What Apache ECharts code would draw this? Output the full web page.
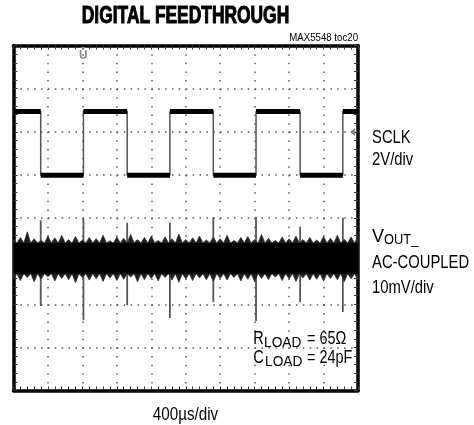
<!DOCTYPE html>
<html><head><meta charset="utf-8">
<script src="https://cdn.jsdelivr.net/npm/echarts@6/dist/echarts.min.js"></script>
<style>html,body{margin:0;padding:0;background:#fff}#c{width:474px;height:425px}</style>
</head><body><div id="c"></div>
<script>
// time axis: 10 divisions (400us/div); vertical: 8 divisions (screen units, 0 = bottom)
const xDivRange = [0, 10];
const yDivRange = [0, 8];
// SCLK square wave (2V/div), edge times in divisions, starting high
const sclkEdges = [0.79, 2.03, 3.30, 4.54, 5.80, 7.04, 8.32, 9.56];
const sclkHigh = 6.47;
const sclkLow = 4.99;
// VOUT_ AC-coupled noise band (10mV/div): fringe tips read every 0.2 div
const noiseTop = [3.50,3.55,3.68,3.52,3.48,3.58,3.54,3.60,3.50,3.57,3.49,3.55,3.52,3.60,3.47,3.56,3.53,3.62,3.50,3.55,3.58,3.48,3.56,3.52,3.63,3.50,3.54,3.58,3.49,3.56,3.52,3.60,3.48,3.55,3.57,3.50,3.62,3.53,3.48,3.56,3.52,3.58,3.50,3.55,3.49,3.57,3.53,3.60,3.51,3.56,3.58];
const noiseBottom = [2.60,2.55,2.62,2.52,2.58,2.64,2.54,2.60,2.57,2.50,2.62,2.56,2.59,2.53,2.61,2.55,2.58,2.63,2.52,2.57,2.60,2.54,2.62,2.56,2.51,2.59,2.55,2.61,2.57,2.53,2.60,2.56,2.62,2.54,2.58,2.52,2.60,2.57,2.63,2.55,2.59,2.53,2.61,2.56,2.58,2.54,2.60,2.57,2.52,2.59,2.56];
const noiseCoreTop = 3.42;
const noiseCoreBottom = 2.71;
// feedthrough spikes at each clock edge
const spikeX = [0.79, 2.03, 3.30, 4.54, 5.80, 7.04, 8.32, 9.56];
const spikeTop = [3.95, 3.98, 3.89, 3.89, 4.01, 4.03, 3.80, 4.01];
const spikeBottom = [1.96, 1.63, 1.98, 1.68, 2.05, 1.61, 2.05, 1.82];

const FONT = '"Liberation Sans", Arial, sans-serif';

// build SCLK traces
const sclkThin = [];
const sclkThick = [];
let lvl = sclkHigh, prev = xDivRange[0];
sclkThin.push([prev, lvl]);
sclkEdges.forEach(e => {
  sclkThick.push([prev, lvl], [e, lvl], [e, '-']);
  sclkThin.push([e, lvl]);
  lvl = (lvl === sclkHigh) ? sclkLow : sclkHigh;
  sclkThin.push([e, lvl]);
  prev = e;
});
sclkThin.push([xDivRange[1], lvl]);
sclkThick.push([prev, lvl], [xDivRange[1], lvl]);

const noiseStep = (xDivRange[1] - xDivRange[0]) / (noiseTop.length - 1);

function axisBase(pos, isX) {
  return {
    type: 'value', min: isX ? xDivRange[0] : yDivRange[0], max: isX ? xDivRange[1] : yDivRange[1],
    interval: 1, position: pos,
    axisLine: {show: true, onZero: false, lineStyle: {color: '#000', width: 3.5}},
    axisTick: {show: true, inside: true, length: 4, lineStyle: {color: '#333', width: 1}},
    minorTick: {show: true, splitNumber: 5, length: 4, lineStyle: {color: '#333', width: 1}},
    axisLabel: {show: false},
    splitLine: {show: false},
    minorSplitLine: {show: false}
  };
}
const xB = axisBase('bottom', true);
xB.splitLine = {show: true, lineStyle: {color: '#555', width: 1.5, type: [1.5, 7.125]}};
const xT = axisBase('top', true);
const yL = axisBase('left', false);
yL.splitLine = {show: true, lineStyle: {color: '#555', width: 1.5, type: [1.5, 5.39]}};
const yR = axisBase('right', false);

function txt(text, x, y, size, opt) {
  opt = opt || {};
  const st = {
    text: text, fill: opt.fill || '#000',
    font: (opt.bold ? 'bold ' : '') + size + 'px ' + FONT,
    textAlign: opt.align || 'left', align: opt.align || 'left',
    textVerticalAlign: 'middle', verticalAlign: 'middle'
  };
  if (opt.stroke) { st.stroke = opt.fill || '#000'; st.lineWidth = opt.stroke; }
  return {type: 'text', x: x, y: y, scaleX: opt.sx || 0.78, z: 100, style: st};
}

const chart = echarts.init(document.getElementById('c'), null, {renderer: 'canvas'});
chart.setOption({
  animation: false,
  backgroundColor: '#fff',
  grid: {left: 13.5, top: 45.5, width: 344.5, height: 345, containLabel: false},
  xAxis: [xB, xT],
  yAxis: [yL, yR],
  series: [
    {
      type: 'custom', xAxisIndex: 0, yAxisIndex: 0, z: 3,
      data: spikeX.map((x, i) => [x, spikeTop[i], spikeBottom[i]]),
      encode: {x: 0, y: [1, 2]},
      renderItem: function (params, api) {
        const a = api.coord([api.value(0), api.value(1)]);
        const b = api.coord([api.value(0), api.value(2)]);
        return {type: 'line', shape: {x1: a[0], y1: a[1], x2: b[0], y2: b[1]},
          style: {stroke: '#555', lineWidth: 1.8}};
      }
    },
    {
      type: 'custom', xAxisIndex: 0, yAxisIndex: 0, z: 4,
      data: [[xDivRange[0], noiseCoreBottom]],
      encode: {x: 0, y: 1},
      renderItem: function (params, api) {
        const pts = [];
        const n = noiseTop.length;
        for (let i = 0; i < n; i++) {
          const x = xDivRange[0] + i * noiseStep;
          pts.push(api.coord([x, noiseTop[i]]));
          if (i < n - 1) pts.push(api.coord([x + noiseStep / 2, noiseCoreTop]));
        }
        for (let i = n - 1; i >= 0; i--) {
          const x = xDivRange[0] + i * noiseStep;
          pts.push(api.coord([x, noiseBottom[i]]));
          if (i > 0) pts.push(api.coord([x - noiseStep / 2, noiseCoreBottom]));
        }
        const c1 = api.coord([xDivRange[0], noiseCoreTop]);
        const c2 = api.coord([xDivRange[1], noiseCoreBottom]);
        return {type: 'group', children: [
          {type: 'polygon', shape: {points: pts}, style: {fill: '#1e1e1e', stroke: '#333', lineWidth: 0.8}},
          {type: 'rect', shape: {x: c1[0], y: c1[1], width: c2[0] - c1[0], height: c2[1] - c1[1]}, style: {fill: '#000'}}
        ]};
      }
    },
    {
      type: 'line', xAxisIndex: 0, yAxisIndex: 0, data: sclkThin, symbol: 'none', z: 5,
      lineStyle: {color: '#555', width: 1.5}, silent: true
    },
    {
      type: 'line', xAxisIndex: 0, yAxisIndex: 0, data: sclkThick, symbol: 'none', z: 6,
      connectNulls: false, lineStyle: {color: '#000', width: 5}, silent: true
    }
  ],
  graphic: [
    txt('DIGITAL FEEDTHROUGH', 185.5, 17, 23.5, {bold: true, align: 'center', sx: 0.74, stroke: 1}),
    txt('MAX5548 toc20', 358, 37.5, 11.5, {align: 'right', sx: 0.84}),
    txt('SCLK', 372, 138, 19),
    txt('2V/div', 372, 160, 19),
    txt('V', 372, 236.5, 19, {sx: 0.95}),
    txt('OUT_', 384, 240.5, 14, {sx: 0.92}),
    txt('AC-COUPLED', 372, 262.5, 19),
    txt('10mV/div', 372, 288, 19),
    txt('R', 253.3, 339, 18.5),
    txt('LOAD', 264, 343.5, 14, {sx: 0.98}),
    txt('= 65\u03A9', 307, 339, 18.5),
    txt('C', 253.3, 357.7, 18.5),
    txt('LOAD', 265, 362, 14, {sx: 0.98}),
    txt('= 24pF', 307, 357.7, 18.5),
    txt('400\u00B5s/div', 185.5, 415, 19, {align: 'center', sx: 0.8}),
    txt('U', 83.3, 55, 13, {bold: true, align: 'center', fill: '#888', sx: 0.9}),
    {type: 'polygon', z: 100, shape: {points: [[80.8, 47], [85.8, 47], [83.3, 50]]}, style: {fill: '#888'}},
    {type: 'polygon', z: 100, shape: {points: [[355, 128], [355, 136], [350, 132]]}, style: {fill: '#888'}}
  ]
});
</script>
</body></html>
